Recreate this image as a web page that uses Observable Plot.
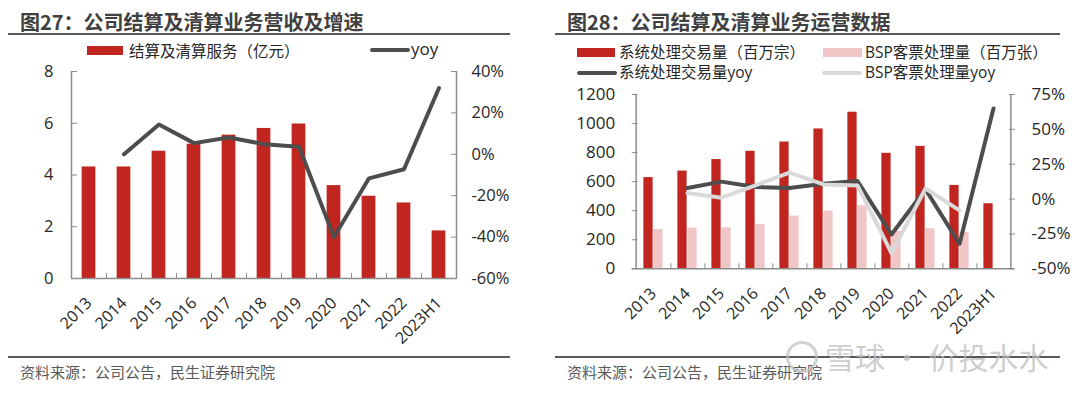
<!DOCTYPE html>
<html><head><meta charset="utf-8">
<script src="https://cdn.jsdelivr.net/npm/d3@7"></script>
<script src="https://cdn.jsdelivr.net/npm/@observablehq/plot@0.6"></script>
<style>
body{margin:0;background:#fff;font-family:"Open Sans","Noto Sans CJK SC",sans-serif;}
#root{position:relative;width:1080px;height:395px;overflow:hidden;background:#fff;}
.abs{position:absolute;white-space:nowrap;}
.title{font-family:"Noto Sans CJK SC",sans-serif;font-size:20px;font-weight:bold;color:#404040;line-height:24px;}
.hr{position:absolute;height:2px;background:#595959;}
.src{font-family:"Noto Sans CJK SC",sans-serif;font-size:15px;color:#595959;line-height:20px;}
.lg{font-family:"Open Sans","Noto Sans CJK SC",sans-serif;font-size:15px;color:#262626;line-height:20px;}
.sw{position:absolute;}
svg{position:absolute;overflow:visible;}
</style></head><body><div id="root"></div>
<script>
// ---------- data ----------
const categories = ["2013","2014","2015","2016","2017","2018","2019","2020","2021","2022","2023H1"];

// Fig 27
const settleRevenue = [4.31, 4.31, 4.92, 5.19, 5.54, 5.80, 5.97, 3.59, 3.18, 2.92, 1.84];
const settleYoy = [null, 0, 14.4, 5.4, 8.1, 4.9, 3.6, -40, -11.6, -7.2, 32];
const revTicks = [0, 2, 4, 6, 8];
const yoyTicksLeft = [-60, -40, -20, 0, 20, 40];

// Fig 28
const txnVolume = [628, 673, 752, 809, 873, 963, 1078, 795, 843, 574, 448];
const bspVolume = [271, 280, 283, 306, 363, 397, 434, 257, 276, 250, null];
const txnYoy = [null, 7.9, 12.5, 8.6, 7.9, 11, 12.9, -25.4, 7, -32, 65];
const bspYoy = [null, 4.3, 1, 9.8, 19, 10.5, 9.8, -38.8, 7.6, -8.1, null];
const volTicks = [0, 200, 400, 600, 800, 1000, 1200];
const yoyTicksRight = [-50, -25, 0, 25, 50, 75];

// ---------- style ----------
const RED = "#c0261f", PINK = "#f0c6c7", DARK = "#4d4d4d", LIGHT = "#d9d9d9", AXIS = "#8c8c8c";
const FONT = '"Open Sans","Noto Sans CJK SC",sans-serif';

const root = document.getElementById("root");
function el(tag, cls, css, text) {
  const e = document.createElement(tag);
  if (cls) e.className = cls;
  Object.assign(e.style, css);
  if (text != null) e.textContent = text;
  root.appendChild(e);
  return e;
}

// ---------- Fig 27 ----------
{
  const W = 520, H = 290, mL = 71, mR = 64, mT = 11, mB = 72;
  const step = (W - mL - mR) / categories.length;
  const barW = 13.7;
  const lo = yoyTicksLeft[0], hi = yoyTicksLeft[yoyTicksLeft.length - 1];
  const yMax = revTicks[revTicks.length - 1];
  const toY = v => (v - lo) / (hi - lo) * yMax;
  const rows = categories.map((c, i) => ({cat: c, rev: settleRevenue[i], yoy: settleYoy[i]}));

  const chart = Plot.plot({
    width: W, height: H, marginLeft: mL, marginRight: mR, marginTop: mT, marginBottom: mB,
    style: {fontFamily: FONT, fontSize: "16px", color: "#262626", background: "transparent", overflow: "visible"},
    x: {type: "band", domain: categories, padding: 0, label: null},
    y: {domain: [0, yMax], label: null},
    marks: [
      Plot.barY(rows, {x: "cat", y: "rev", fill: RED, insetLeft: (step - barW) / 2, insetRight: (step - barW) / 2}),
      Plot.ruleY([0], {stroke: AXIS, strokeWidth: 1.5}),
      Plot.ruleX([categories[0]], {dx: -step / 2, stroke: AXIS, strokeWidth: 1.5}),
      Plot.ruleX([categories[categories.length - 1]], {dx: step / 2, stroke: AXIS, strokeWidth: 1.5}),
      Plot.axisX(categories.slice(0, -1), {tickSize: -5, dx: step / 2, stroke: AXIS, tickFormat: () => "", label: null}),
      Plot.axisX({tickSize: 0, tickRotate: -45, tickPadding: 22, fontSize: 16, label: null}),
      Plot.axisY(revTicks, {anchor: "left", tickSize: -6, stroke: AXIS, tickFormat: () => "", label: null}),
      Plot.axisY(revTicks, {anchor: "left", tickSize: 0, tickPadding: 18, fontSize: 16.5, label: null, tickFormat: d => String(d)}),
      Plot.axisY(yoyTicksLeft.map(toY), {anchor: "right", tickSize: -6, stroke: AXIS, tickFormat: () => "", label: null}),
      Plot.axisY(yoyTicksLeft.map(toY), {anchor: "right", tickSize: 0, tickPadding: 15, fontSize: 16.5, label: null,
        tickFormat: d => Math.round(d / yMax * (hi - lo) + lo) + "%"}),
      Plot.line(rows.filter(d => d.yoy != null), {x: "cat", y: d => toY(d.yoy), stroke: DARK, strokeWidth: 4, strokeLinejoin: "round", strokeLinecap: "round"})
    ]
  });
  chart.style.left = "0px"; chart.style.top = "60px";
  root.appendChild(chart);

  el("div", "abs title", {left: "20px", top: "10px"}, "图27：公司结算及清算业务营收及增速");
  el("div", "hr", {left: "8px", top: "33px", width: "502px"});
  el("div", "sw", {left: "87px", top: "46px", width: "36px", height: "9px", background: RED});
  el("div", "abs lg", {left: "129px", top: "41px", fontSize: "15.5px"}, "结算及清算服务（亿元）");
  el("div", "sw", {left: "370px", top: "48px", width: "40px", height: "4px", background: DARK, borderRadius: "2px"});
  el("div", "abs lg", {left: "411px", top: "39px", fontSize: "17px"}, "yoy");
  el("div", "hr", {left: "8px", top: "356px", width: "502px"});
  el("div", "abs src", {left: "20px", top: "362px"}, "资料来源：公司公告，民生证券研究院");
}

// ---------- Fig 28 ----------
{
  const W = 530, H = 270, mL = 81.7, mR = 66, mT = 14, mB = 81.7;
  const step = (W - mL - mR) / categories.length;
  const barW = 10;
  const lo = yoyTicksRight[0], hi = yoyTicksRight[yoyTicksRight.length - 1];
  const yMax = volTicks[volTicks.length - 1];
  const toY = v => (v - lo) / (hi - lo) * yMax;
  const rows = categories.map((c, i) => ({cat: c, txn: txnVolume[i], bsp: bspVolume[i], ty: txnYoy[i], by: bspYoy[i]}));
  const side = (step - 2 * barW) / 2;

  const chart = Plot.plot({
    width: W, height: H, marginLeft: mL, marginRight: mR, marginTop: mT, marginBottom: mB,
    style: {fontFamily: FONT, fontSize: "17px", color: "#262626", background: "transparent", overflow: "visible"},
    x: {type: "band", domain: categories, padding: 0, label: null},
    y: {domain: [0, yMax], label: null},
    marks: [
      Plot.barY(rows, {x: "cat", y: "txn", fill: RED, insetLeft: side, insetRight: side + barW}),
      Plot.barY(rows.filter(d => d.bsp != null), {x: "cat", y: "bsp", fill: PINK, insetLeft: side + barW, insetRight: side}),
      Plot.ruleY([0], {stroke: AXIS, strokeWidth: 1.5}),
      Plot.ruleX([categories[0]], {dx: -step / 2, stroke: AXIS, strokeWidth: 1.5}),
      Plot.ruleX([categories[categories.length - 1]], {dx: step / 2, stroke: AXIS, strokeWidth: 1.5}),
      Plot.axisX(categories.slice(0, -1), {tickSize: -5, dx: step / 2, stroke: AXIS, tickFormat: () => "", label: null}),
      Plot.axisX({tickSize: 0, tickRotate: -45, tickPadding: 22, fontSize: 16, label: null}),
      Plot.axisY(volTicks, {anchor: "left", tickSize: -6, stroke: AXIS, tickFormat: () => "", label: null}),
      Plot.axisY(volTicks, {anchor: "left", tickSize: 0, tickPadding: 17, fontSize: 17, label: null, tickFormat: d => String(d)}),
      Plot.axisY(yoyTicksRight.map(toY), {anchor: "right", tickSize: -6, stroke: AXIS, tickFormat: () => "", label: null}),
      Plot.axisY(yoyTicksRight.map(toY), {anchor: "right", tickSize: 0, tickPadding: 17, fontSize: 17, label: null,
        tickFormat: d => Math.round(d / yMax * (hi - lo) + lo) + "%"}),
      Plot.line(rows.filter(d => d.ty != null), {x: "cat", y: d => toY(d.ty), stroke: DARK, strokeWidth: 4, strokeLinejoin: "round", strokeLinecap: "round"}),
      Plot.line(rows.filter(d => d.by != null), {x: "cat", y: d => toY(d.by), stroke: LIGHT, strokeWidth: 4, strokeLinejoin: "round", strokeLinecap: "round"})
    ]
  });
  chart.style.left = "550px"; chart.style.top = "80px";
  root.appendChild(chart);

  el("div", "abs title", {left: "567px", top: "10px"}, "图28：公司结算及清算业务运营数据");
  el("div", "hr", {left: "555px", top: "33px", width: "505px"});
  el("div", "sw", {left: "577px", top: "48px", width: "38px", height: "9px", background: RED});
  el("div", "abs lg", {left: "619px", top: "42px", fontSize: "15.5px"}, "系统处理交易量（百万宗）");
  el("div", "sw", {left: "823px", top: "48px", width: "39px", height: "9px", background: PINK});
  el("div", "abs lg", {left: "865px", top: "42px", fontSize: "15.5px"}, "BSP客票处理量（百万张）");
  el("div", "sw", {left: "577px", top: "71px", width: "40px", height: "4px", background: DARK, borderRadius: "2px"});
  el("div", "abs lg", {left: "619px", top: "62px", fontSize: "15.5px"}, "系统处理交易量yoy");
  el("div", "sw", {left: "822px", top: "71px", width: "40px", height: "4px", background: LIGHT, borderRadius: "2px"});
  el("div", "abs lg", {left: "865px", top: "62px", fontSize: "15.5px"}, "BSP客票处理量yoy");
  el("div", "hr", {left: "555px", top: "356px", width: "505px"});
  el("div", "abs src", {left: "567px", top: "362px"}, "资料来源：公司公告，民生证券研究院");
  // watermark
  el("div", "sw", {left: "786px", top: "341px", width: "26px", height: "26px", border: "3px solid rgba(190,190,190,0.7)", borderRadius: "50%"});
  el("div", "abs", {left: "825px", top: "338px", fontFamily: '"Noto Sans CJK SC",sans-serif', fontSize: "30px", lineHeight: "36px", color: "rgba(190,190,190,0.75)"}, "雪球 · 价投水水");
}
</script></body></html>
